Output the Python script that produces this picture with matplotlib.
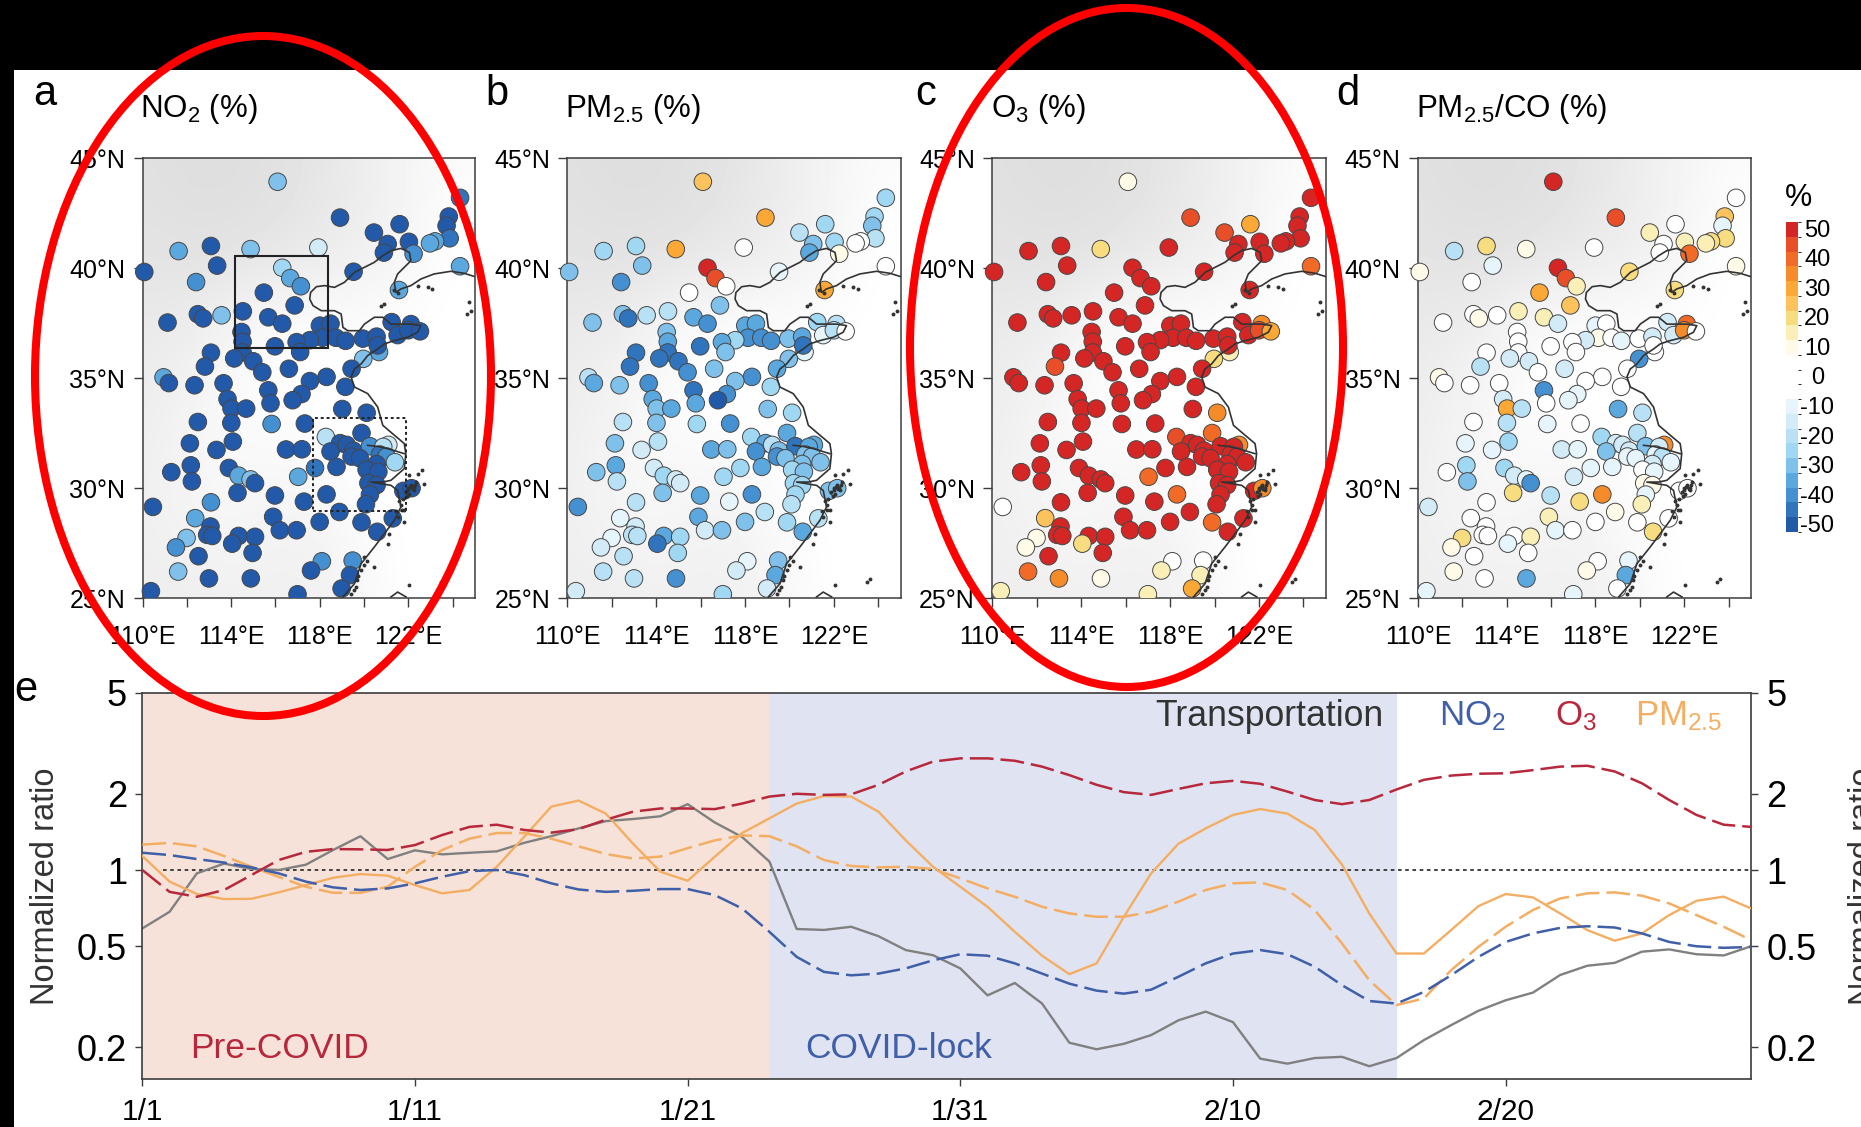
import matplotlib

matplotlib.use("Agg")
import matplotlib.pyplot as plt
import numpy as np
from matplotlib.cm import ScalarMappable
from matplotlib.colors import BoundaryNorm, ListedColormap
from matplotlib.patches import Ellipse, Rectangle

W, H = 1861, 1127

# city positions
lons = [
    116.10, 124.34, 118.92, 121.61, 120.45, 123.83, 123.73, 123.87, 123.21, 122.98,
    122.03, 122.24, 121.07, 120.90, 117.94, 114.88, 113.09, 111.63, 113.37, 110.08,
    112.42, 124.34, 116.31, 116.67, 117.15, 119.53, 121.58, 115.48, 116.87, 114.53,
    113.57, 112.50, 112.74, 111.13, 115.68, 116.31, 114.47, 114.52, 118.01, 118.49,
    118.13, 118.73, 119.17, 117.56, 116.96, 117.12, 115.98, 119.95, 120.57, 121.25,
    121.52, 122.12, 122.00, 122.53, 120.68, 120.62, 119.97, 119.44, 113.09, 114.52,
    114.14, 115.00, 115.41, 112.82, 116.61, 118.31, 117.56, 117.18, 116.78, 119.16,
    110.95, 111.19, 112.35, 113.66, 115.68, 115.78, 113.84, 114.02, 114.68, 119.02,
    120.12, 114.01, 112.50, 115.83, 117.33, 119.89, 118.28, 112.14, 114.08, 113.34,
    116.48, 117.20, 118.92, 118.49, 119.22, 119.52, 119.44, 120.27, 121.10, 120.87,
    120.72, 121.02, 121.40, 119.82, 120.57, 118.76, 117.79, 120.12, 120.65, 112.18,
    111.30, 113.90, 114.34, 114.88, 115.08, 112.23, 117.03, 120.20, 120.57, 121.78,
    122.15, 114.29, 115.98, 118.31, 120.27, 120.09, 117.29, 110.47, 113.09, 118.89,
    112.38, 115.90, 121.30, 118.00, 119.89, 113.07, 112.92, 113.15, 116.20, 116.96,
    120.60, 114.34, 115.08, 114.05, 111.99, 111.51, 114.97, 112.53, 118.10, 117.61,
    119.49, 111.61, 119.37, 113.00, 114.89, 118.99, 110.38, 117.00,
]
lats = [
    43.92, 43.19, 42.29, 41.99, 41.61, 42.34, 41.92, 41.35, 41.21, 41.12,
    41.19, 40.65, 41.09, 40.70, 40.93, 40.86, 41.00, 40.77, 40.11, 39.82,
    39.36, 40.08, 40.01, 39.54, 39.17, 39.83, 39.00, 38.88, 38.30, 38.03,
    37.85, 37.90, 37.71, 37.52, 37.76, 37.47, 37.09, 36.65, 37.38, 37.47,
    36.83, 36.83, 36.69, 36.72, 36.63, 36.18, 36.44, 36.79, 36.88, 37.54,
    36.95, 37.45, 37.17, 37.12, 36.18, 36.48, 35.87, 35.42, 36.15, 36.16,
    35.89, 35.76, 35.26, 35.52, 35.42, 35.05, 34.86, 34.27, 33.99, 34.60,
    35.03, 34.77, 34.67, 34.76, 34.44, 33.85, 34.04, 33.61, 33.61, 33.59,
    33.42, 32.96, 33.00, 32.91, 32.93, 32.50, 32.32, 32.03, 32.11, 31.73,
    31.75, 31.76, 32.04, 31.66, 31.96, 31.70, 31.43, 31.90, 31.96, 31.87,
    31.52, 31.43, 31.17, 31.35, 31.09, 30.96, 30.91, 30.83, 30.74, 31.03,
    30.72, 30.91, 30.56, 30.39, 30.22, 30.30, 30.51, 30.22, 30.13, 29.87,
    29.99, 29.78, 29.66, 29.71, 29.70, 29.26, 29.38, 29.14, 29.35, 28.91,
    28.63, 28.69, 28.62, 28.46, 28.44, 28.25, 27.87, 27.82, 28.08, 28.08,
    28.01, 27.82, 27.78, 27.47, 27.73, 27.30, 27.05, 26.90, 26.67, 26.25,
    26.70, 26.20, 26.04, 25.89, 25.89, 25.43, 25.31, 25.17,
]

no2_vals = [
    -30, -45, -50, -50, -50, -50, -50, -45, -35, -35,
    -50, -40, -50, -50, -15, -30, -50, -35, -50, -50,
    -40, -35, -25, -35, -40, -50, -35, -50, -50, -50,
    -30, -50, -50, -50, -50, -50, -50, -50, -50, -50,
    -50, -50, -50, -50, -50, -50, -50, -50, -50, -50,
    -50, -50, -50, -50, -35, -50, -30, -50, -50, -50,
    -50, -50, -50, -50, -50, -50, -50, -50, -50, -50,
    -35, -50, -50, -50, -50, -50, -50, -50, -50, -50,
    -50, -50, -50, -40, -50, -50, -20, -50, -50, -50,
    -50, -50, -50, -50, -50, -50, -50, -40, -15, -20,
    -45, -40, -25, -50, -50, -50, -45, -50, -50, -50,
    -50, -50, -35, -30, -50, -50, -35, -50, -50, -50,
    -50, -50, -50, -50, -50, -50, -50, -50, -40, -50,
    -35, -50, -50, -50, -50, -50, -50, -50, -50, -50,
    -50, -50, -50, -50, -30, -40, -50, -50, -40, -50,
    -40, -30, -50, -50, -50, -50, -50, -50,
]
pm25_vals = [
    25, -25, 30, -25, -20, -25, -30, -20, 5, 5,
    -25, 10, -30, -35, 5, 30, -25, -25, -30, -30,
    -40, 5, 50, 45, 5, -10, 30, 5, -30, -20,
    -20, -30, -45, -30, -35, -40, -30, -35, -35, -35,
    -40, -40, -40, -25, -35, -30, -45, -30, -35, -25,
    -10, -20, -20, 5, -10, -45, -30, -35, -45, -45,
    -45, -45, -40, -45, -30, -40, -30, -40, -50, -25,
    -20, -35, -30, -40, -45, -35, -35, -30, -35, -30,
    -25, -30, -20, -25, -40, -35, -25, -30, -20, -15,
    -35, -30, -35, -40, -20, -30, -40, -45, -35, -35,
    -30, -30, -30, -30, -30, -35, -25, -25, -30, -35,
    -30, -15, -25, -15, -15, -20, -25, -25, -25, -30,
    -30, -30, -35, -40, -25, -20, -10, -40, -20, -20,
    -10, -35, -20, -30, -25, -15, -20, -20, -15, -30,
    -35, -35, -25, -45, -10, -15, -25, -20, -10, -15,
    -30, -20, -35, -20, -40, -15, -15, -25,
]
o3_vals = [
    10, 50, 45, 30, 45, 50, 50, 50, 50, 50,
    50, 50, 50, 50, 50, 20, 50, 50, 50, 50,
    50, 40, 50, 50, 50, 50, 50, 50, 50, 50,
    50, 50, 50, 50, 50, 50, 50, 50, 50, 50,
    50, 50, 50, 50, 50, 50, 50, 50, 50, 50,
    50, 35, 45, 30, 15, 50, 20, 50, 50, 50,
    50, 50, 50, 45, 50, 50, 50, 50, 50, 50,
    50, 50, 50, 50, 50, 50, 50, 50, 50, 50,
    35, 50, 50, 50, 50, 40, 45, 50, 50, 50,
    50, 50, 50, 50, 50, 50, 50, 50, 35, 50,
    50, 50, 50, 50, 50, 50, 50, 50, 50, 50,
    50, 50, 50, 50, 50, 50, 40, 50, 50, 50,
    35, 50, 50, 40, 50, 50, 50, 0, 50, 50,
    25, 50, 50, 50, 40, 50, 50, 50, 50, 50,
    50, 50, 50, 20, 10, 10, 50, 50, 0, 15,
    5, 40, 15, 35, 10, 30, 15, 15,
]
ratio_vals = [
    50, 0, 45, 5, 15, 25, -10, 20, 20, 15,
    15, 40, 5, 5, 0, 10, 20, -20, -10, 10,
    0, 10, 50, 45, 15, 20, 20, 30, 25, 15,
    0, 0, 10, 0, 15, -15, 0, -5, -10, -5,
    10, 0, -10, -15, 0, 0, 0, 0, -15, -15,
    -15, 40, 35, 0, 5, 0, -40, 0, 0, -5,
    -15, -15, 0, -20, -15, 0, 0, -10, -10, 0,
    10, -5, 0, 0, -40, 0, -15, 30, -20, -35,
    -20, -20, 0, -10, -5, -20, -25, -10, -25, -10,
    -15, -10, -15, -30, -15, -15, -10, -30, 35, -15,
    -10, -20, -10, -10, -15, -10, -10, -5, -10, -25,
    0, -25, -15, -10, -40, -30, -15, 10, 10, 0,
    -5, 20, -20, 35, -10, 15, 20, -15, -5, 10,
    0, 15, 0, 0, 0, 0, -5, 0, -10, -5,
    20, 0, 15, -10, 20, 10, 0, -5, 0, 10,
    -10, 10, -35, 0, -35, 0, -10, -10,
]

panel_titles = ["NO$_{2}$ (%)", "PM$_{2.5}$ (%)", "O$_{3}$ (%)", "PM$_{2.5}$/CO (%)"]
panel_letters = ["a", "b", "c", "d"]

coast_lon = [
    125.0, 124.52, 123.92, 123.17, 122.57, 122.12, 121.67, 121.44, 121.37, 121.52,
    121.82, 122.12, 122.05, 121.67, 121.22, 120.85, 120.47, 120.02, 119.57, 119.12,
    118.67, 118.22, 117.85, 117.59, 117.55, 117.70, 118.07, 118.67, 118.97, 119.05,
    119.27, 119.79, 120.02, 120.47, 120.85, 121.22, 121.67, 122.12, 122.57, 122.42,
    121.97, 121.37, 120.92, 120.62, 120.17, 119.87, 119.57, 119.42, 119.57, 120.17,
    120.62, 120.85, 121.29, 121.82, 121.89, 121.82, 121.22, 120.85, 120.32, 121.22,
    121.52, 121.67, 121.37, 120.92, 120.47, 119.87, 119.57, 119.05,
]
coast_lat = [
    39.61, 39.76, 39.85, 39.73, 39.50, 39.20, 39.05, 38.89, 39.35, 39.73,
    40.03, 40.33, 40.71, 40.89, 40.79, 40.56, 40.26, 40.03, 39.80, 39.35,
    39.12, 39.20, 39.15, 38.89, 38.59, 38.29, 38.06, 38.06, 37.91, 37.30,
    37.15, 37.15, 37.45, 37.76, 37.76, 37.45, 37.45, 37.45, 37.38, 37.08,
    36.85, 36.70, 36.55, 36.32, 36.02, 35.64, 35.41, 35.05, 34.59, 34.29,
    33.68, 32.85, 32.47, 32.02, 31.56, 30.88, 30.35, 30.27, 30.27, 30.12,
    29.89, 29.14, 28.53, 27.92, 27.32, 26.56, 25.65, 25.05,
]
estuary_lon = [120.17, 120.62, 121.07, 121.82]
estuary_lat = [31.94, 31.89, 31.79, 31.56]
taiwan_lon = [121.22, 121.52, 121.90]
taiwan_lat = [25.05, 25.27, 25.05]
island_lon = [
    122.12, 122.35, 122.05, 122.42, 122.64, 122.72, 121.89, 122.27, 121.67, 121.82,
    121.52, 121.82, 121.14, 121.07, 120.47, 120.02, 119.87, 119.64, 119.42, 123.62,
    123.47, 122.05, 120.77, 120.92, 122.42, 122.87, 123.09, 124.67, 124.74, 122.00,
    122.10, 122.20, 122.00, 122.15, 122.25, 122.05, 121.95, 122.30, 121.75, 121.60,
    121.70, 121.45, 120.15, 120.00, 119.75, 119.70, 119.55, 121.35, 121.55, 124.85,
]
island_lat = [
    30.12, 30.27, 30.58, 30.65, 30.80, 30.17, 29.82, 29.89, 29.21, 28.98,
    28.68, 28.45, 27.92, 27.47, 26.41, 26.86, 26.26, 25.50, 25.20, 25.88,
    25.73, 25.58, 38.29, 38.36, 39.20, 39.12, 39.05, 37.91, 38.44, 30.00,
    30.05, 29.95, 29.90, 30.10, 30.00, 29.75, 29.65, 30.15, 29.50, 29.40,
    29.00, 28.95, 26.70, 26.50, 26.00, 25.80, 25.35, 39.00, 38.85, 38.05,
]

# gray level of the terrain, rows 45N to 25N, columns 110E to 124E
terrain = [
    [0.88, 0.87, 0.87, 0.88, 0.90, 0.93, 0.96, 0.98],
    [0.89, 0.88, 0.88, 0.89, 0.91, 0.93, 0.96, 1.00],
    [0.92, 0.93, 0.97, 1.00, 1.00, 1.00, 1.00, 1.00],
    [0.93, 0.96, 0.98, 0.99, 1.00, 1.00, 1.00, 1.00],
    [0.94, 0.96, 0.97, 0.95, 0.96, 0.99, 1.00, 1.00],
    [0.93, 0.93, 0.94, 0.94, 0.94, 0.97, 1.00, 1.00],
]

level_colors = [
    "#d42625", "#e84e28", "#f26b26", "#f68b2a", "#fba836", "#fcc25c", "#f8dc80", "#fbefb8",
    "#fffbe8", "#ffffff", "#ffffff", "#ffffff", "#e6f4fb", "#d2ebf7", "#b9e1f6", "#a0d8f4",
    "#7fc1ea", "#5ba8de", "#4490d0", "#2f74bd", "#2359a9",
]
cbar_ticks = [50, 40, 30, 20, 10, 0, -10, -20, -30, -40, -50]

days = list(range(60))
date_ticks = [0, 10, 20, 30, 40, 50]
date_labels = ["1/1", "1/11", "1/21", "1/31", "2/10", "2/20"]
ratio_ticks = [0.2, 0.5, 1, 2, 5]
ratio_labels = ["0.2", "0.5", "1", "2", "5"]
pre_covid = (0, 23)
covid_lock = (23, 46)

transportation = [
    0.588, 0.684, 0.97, 1.06, 1.01, 1.00, 1.05, 1.20, 1.36, 1.105,
    1.196, 1.153, 1.17, 1.185, 1.28, 1.36, 1.46, 1.56, 1.59, 1.63,
    1.82, 1.54, 1.35, 1.08, 0.585, 0.58, 0.597, 0.548, 0.483, 0.461,
    0.409, 0.32, 0.358, 0.297, 0.208, 0.196, 0.206, 0.223, 0.255, 0.276,
    0.251, 0.180, 0.172, 0.181, 0.183, 0.168, 0.181, 0.213, 0.244, 0.278,
    0.306, 0.328, 0.385, 0.419, 0.43, 0.476, 0.486, 0.465, 0.46, 0.50,
]
pm25_solid = [
    1.136, 0.90, 0.804, 0.768, 0.77, 0.816, 0.872, 0.932, 0.964, 0.95,
    0.872, 0.809, 0.834, 1.03, 1.35, 1.78, 1.88, 1.67, 1.27, 0.985,
    0.907, 1.13, 1.40, 1.60, 1.83, 1.96, 1.95, 1.70, 1.31, 1.03,
    0.859, 0.716, 0.57, 0.459, 0.388, 0.428, 0.654, 0.97, 1.27, 1.46,
    1.65, 1.74, 1.67, 1.44, 1.05, 0.674, 0.468, 0.468, 0.579, 0.72,
    0.804, 0.78, 0.674, 0.579, 0.526, 0.562, 0.664, 0.756, 0.785, 0.705,
]
pm25_dash = [
    1.26, 1.28, 1.24, 1.136, 1.03, 0.94, 0.859, 0.813, 0.813, 0.859,
    1.03, 1.2, 1.33, 1.40, 1.40, 1.33, 1.24, 1.157, 1.11, 1.13,
    1.22, 1.31, 1.37, 1.36, 1.24, 1.095, 1.037, 1.025, 1.03, 1.01,
    0.927, 0.846, 0.784, 0.716, 0.674, 0.654, 0.654, 0.684, 0.75, 0.834,
    0.886, 0.894, 0.834, 0.695, 0.513, 0.367, 0.293, 0.311, 0.402, 0.497,
    0.597, 0.695, 0.772, 0.809, 0.816, 0.792, 0.738, 0.664, 0.597, 0.529,
]
o3_dash = [
    1.0, 0.82, 0.784, 0.834, 0.955, 1.095, 1.18, 1.21, 1.207, 1.20,
    1.255, 1.375, 1.48, 1.51, 1.44, 1.405, 1.45, 1.58, 1.70, 1.75,
    1.75, 1.74, 1.83, 1.95, 2.0, 1.98, 1.99, 2.17, 2.45, 2.68,
    2.76, 2.76, 2.70, 2.56, 2.37, 2.17, 2.03, 1.98, 2.09, 2.2,
    2.25, 2.19, 2.04, 1.89, 1.82, 1.89, 2.08, 2.27, 2.36, 2.40,
    2.41, 2.48, 2.56, 2.58, 2.45, 2.2, 1.89, 1.65, 1.51, 1.48,
]
no2_dash = [
    1.17, 1.146, 1.105, 1.07, 1.025, 0.97, 0.90, 0.854, 0.834, 0.846,
    0.886, 0.941, 0.99, 1.0, 0.955, 0.886, 0.838, 0.82, 0.828, 0.841,
    0.841, 0.796, 0.705, 0.57, 0.454, 0.396, 0.384, 0.39, 0.409, 0.44,
    0.465, 0.459, 0.428, 0.39, 0.356, 0.334, 0.325, 0.337, 0.379, 0.428,
    0.468, 0.483, 0.465, 0.415, 0.351, 0.304, 0.297, 0.33, 0.384, 0.454,
    0.52, 0.562, 0.591, 0.60, 0.593, 0.562, 0.52, 0.50, 0.493, 0.497,
]

RED = "#b8283c"
BLUE = "#3f5fa8"
ORANGE = "#f4ae63"
GRAY = "#808080"
SPINE = "#3c3c3c"


def rect(left, top, right, bottom):
    return [left / W, 1 - bottom / H, (right - left) / W, (bottom - top) / H]


def fig_text(fig, x, y, s, **kw):
    kw.setdefault("va", "center")
    return fig.text(x / W, 1 - y / H, s, **kw)


def draw_map(ax, vals, cmap, norm):
    ax.imshow(terrain, extent=(109, 125, 23, 47), cmap="gray", vmin=0, vmax=1,
              interpolation="bicubic", aspect="auto", zorder=0)
    pts = ax.scatter(lons, lats, c=vals, s=160, cmap=cmap, norm=norm,
                     edgecolors="#474747", linewidths=0.7, zorder=3)
    pts.set_clip_path(Rectangle((109, 25), 17, 21, transform=ax.transData))
    ax.plot(coast_lon, coast_lat, color="#333333", lw=1.2, zorder=4)
    ax.plot(estuary_lon, estuary_lat, color="#333333", lw=1.2, zorder=4)
    ax.plot(taiwan_lon, taiwan_lat, color="#333333", lw=1.2, zorder=4)
    ax.plot(island_lon, island_lat, ls="none", marker="o", ms=1.8, color="#333333", zorder=4)
    ax.set_xlim(110, 125)
    ax.set_ylim(25, 45)
    ax.set_xticks(range(110, 125, 2))
    ax.set_xticklabels(["110°E", "", "114°E", "", "118°E", "", "122°E", ""])
    ax.set_yticks(range(25, 46, 5))
    ax.set_yticklabels(["25°N", "30°N", "35°N", "40°N", "45°N"])
    ax.tick_params(axis="x", length=6.5, width=1.0, labelsize=18, color=SPINE, pad=13)
    ax.tick_params(axis="y", length=6.5, width=1.0, labelsize=18, color=SPINE, pad=6)
    for sp in ax.spines.values():
        sp.set_color(SPINE)
        sp.set_linewidth(1.1)


def main() -> None:
    plt.rcParams["font.family"] = ["Liberation Sans", "DejaVu Sans"]
    plt.rcParams["mathtext.fontset"] = "custom"
    plt.rcParams["mathtext.rm"] = "Liberation Sans"
    plt.rcParams["mathtext.default"] = "rm"

    fig = plt.figure(figsize=(W / 100, H / 100), dpi=100, facecolor="white")

    edges = np.arange(-52.5, 53, 5)
    cmap = ListedColormap(level_colors[::-1])
    norm = BoundaryNorm(edges, cmap.N)

    boxes = [(142.5, 474.7), (567.4, 900.5), (992.3, 1325.7), (1418, 1750.7)]
    title_x = [140, 565, 991, 1416]
    letter_x = [45, 497, 926, 1348]
    series = [no2_vals, pm25_vals, o3_vals, ratio_vals]
    for i, (left, right) in enumerate(boxes):
        ax = fig.add_axes(rect(left, 158, right, 598))
        draw_map(ax, series[i], cmap, norm)
        fig_text(fig, title_x[i], 109, panel_titles[i], fontsize=22.5, ha="left")
        fig_text(fig, letter_x[i], 94, panel_letters[i], fontsize=30, ha="center")
        if i == 0:
            ax.add_patch(Rectangle((114.17, 36.36), 4.22, 4.17, fill=False, ec="#222222", lw=1.5, zorder=5))
            ax.add_patch(Rectangle((117.71, 28.96), 4.19, 4.21, fill=False, ec="#222222", lw=1.4,
                                   ls=(0, (1.5, 1.5)), zorder=5))

    # colour bar with its labels centred beside it
    cax = fig.add_axes(rect(1786, 222, 1798, 532))
    cb = fig.colorbar(ScalarMappable(norm=norm, cmap=cmap), cax=cax, boundaries=edges, drawedges=False)
    cb.outline.set_visible(False)
    cb.set_ticks([])
    for t in cbar_ticks:
        cax.text(2.6, t - 0.5, str(t), transform=cax.get_yaxis_transform(), ha="center", va="center", fontsize=17)
    fig_text(fig, 1798, 198, "%", fontsize=22, ha="center")

    # panel e
    ax = fig.add_axes(rect(142.3, 693, 1751, 1078.7))
    ax.axvspan(*pre_covid, color="#f6e2d9", lw=0, zorder=0)
    ax.axvspan(*covid_lock, color="#e0e3f1", lw=0, zorder=0)
    ax.axhline(1, xmin=0.013, color="#333333", lw=1.3, ls=(0, (2, 2)), zorder=1)
    dash = (0, (9.5, 2.8))
    ax.plot(days, transportation, color=GRAY, lw=1.7, zorder=2)
    ax.plot(days, pm25_solid, color=ORANGE, lw=1.7, zorder=3)
    ax.plot(days, pm25_dash, color=ORANGE, lw=1.8, ls=dash, zorder=3)
    ax.plot(days, no2_dash, color=BLUE, lw=1.8, ls=dash, zorder=3)
    ax.plot(days, o3_dash, color=RED, lw=1.8, ls=dash, zorder=3)
    ax.set_yscale("log")
    ax.set_xlim(0, 59)
    ax.set_ylim(0.15, 5)
    ax.set_xticks(date_ticks)
    ax.set_xticklabels(date_labels)
    ax.set_yticks(ratio_ticks)
    ax.set_yticklabels(ratio_labels)
    ax.minorticks_off()
    ax.tick_params(axis="x", length=5, width=1.0, labelsize=21.5, color=SPINE, pad=9)
    ax.tick_params(axis="y", length=5, width=1.0, labelsize=26, color=SPINE, pad=6,
                   left=True, right=True, labelleft=True, labelright=True)
    for sp in ax.spines.values():
        sp.set_color(SPINE)
        sp.set_linewidth(1.2)

    fig_text(fig, 190, 1049, "Pre-COVID", color=RED, fontsize=25.5, ha="left")
    fig_text(fig, 805, 1049, "COVID-lock", color=BLUE, fontsize=25.5, ha="left")
    fig_text(fig, 1155, 716, "Transportation", color="#333333", fontsize=25.7, ha="left")
    fig_text(fig, 1439, 716, "NO$_{2}$", color=BLUE, fontsize=25, ha="left")
    fig_text(fig, 1555, 716, "O$_{3}$", color=RED, fontsize=25, ha="left")
    fig_text(fig, 1635, 716, "PM$_{2.5}$", color=ORANGE, fontsize=25, ha="left")
    fig_text(fig, 26, 690, "e", fontsize=30, ha="center")
    fig_text(fig, 46, 886, "Normalized ratio", color="#333333", fontsize=23.5, ha="center", rotation=90)
    fig_text(fig, 1864, 886, "Normalized ratio", color="#333333", fontsize=23.5, ha="center", rotation=90)

    # black strips around the screenshot, red marks on top of everything
    fig.add_artist(Rectangle((0, 1 - 70 / H), 1, 70 / H, transform=fig.transFigure, fc="black", ec="none", zorder=20))
    fig.add_artist(Rectangle((0, 0), 14 / W, 1, transform=fig.transFigure, fc="black", ec="none", zorder=20))
    for cx, cy, w, h in [(263, 376, 456, 680), (1126.5, 347.5, 433, 679)]:
        fig.add_artist(Ellipse((cx / W, 1 - cy / H), w / W, h / H, transform=fig.transFigure,
                               fill=False, ec="#ff0000", lw=5.8, zorder=30))

    fig.savefig("out.png", dpi=100)
    plt.close(fig)


if __name__ == "__main__":
    main()
